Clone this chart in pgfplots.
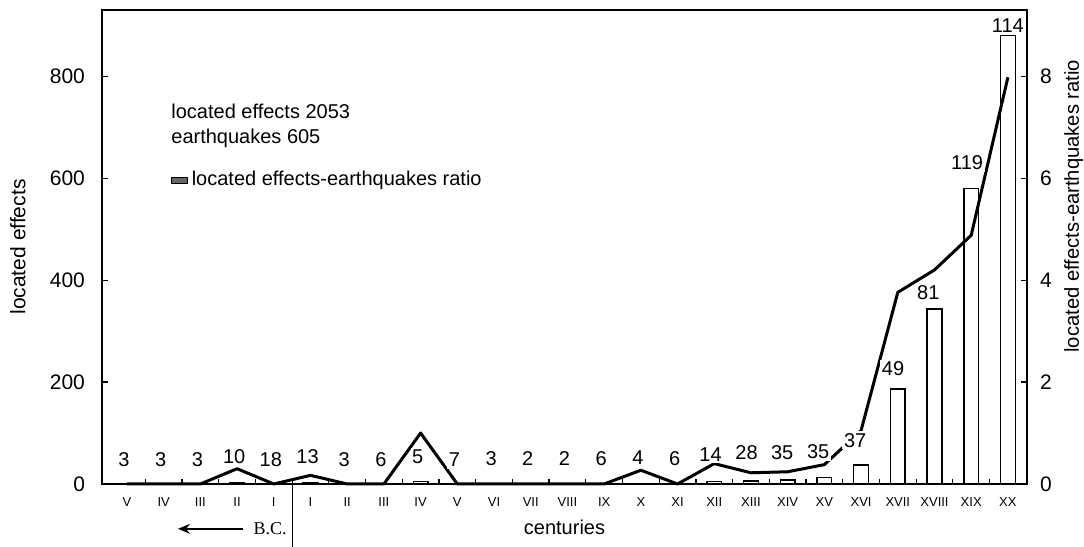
\documentclass[border=0pt]{standalone}
\usepackage{pgfplots}
\pgfplotsset{compat=1.18}
\usepackage{pgfplotstable}
\usepackage{fontspec}
\setmainfont{Liberation Sans}
\newfontfamily\serifBC{Liberation Serif}
\usetikzlibrary{arrows.meta}

% x: category index (0-4 = V..I B.C., 5-24 = I..XX A.D.)
\pgfplotstableread{
x eff ratio
0 0 0
1 0 0
2 0 0
3 3 0.30
4 0 0
5 2 0.17
6 0 0
7 0 0
8 5 1.00
9 0 0
10 0 0
11 0 0
12 0 0
13 0 0
14 1 0.27
15 0 0
16 5 0.40
17 6 0.22
18 8 0.24
19 13 0.38
20 37 1.05
21 186 3.76
22 343 4.20
23 580 4.88
24 880 7.98
}\data

% earthquake counts, placed in ratio units
\pgfplotstableread{
x y lab
-0.08 0.47 3
0.92 0.47 3
1.92 0.47 3
2.92 0.53 10
3.92 0.47 18
4.92 0.53 13
5.92 0.47 3
6.92 0.47 6
7.92 0.53 5
8.92 0.47 7
9.92 0.50 3
10.92 0.50 2
11.92 0.50 2
12.92 0.50 6
13.92 0.52 4
14.92 0.50 6
15.9 0.57 14
16.88 0.61 28
17.85 0.61 35
18.83 0.63 35
19.84 0.86 37
20.87 2.27 49
21.83 3.76 81
22.89 6.30 119
24.0 9.00 114
}\labels

\begin{document}
\begin{tikzpicture}
\begin{axis}[
  scale only axis, width=462.5pt, height=237pt,
  xmin=-0.68, xmax=24.52, ymin=0, ymax=930,
  axis line style={line width=0.75pt},
  ytick={0,200,400,600,800}, ytick pos=left,
  xtick={0,...,24},
  xticklabels={V,IV,III,II,I,I,II,III,IV,V,VI,VII,VIII,IX,X,XI,XII,XIII,XIV,XV,XVI,XVII,XVIII,XIX,XX},
  xtick pos=left,
  major x tick style={draw=none},
  minor xtick={0.5,1.5,...,23.5},
  minor tick length=2.5pt, major tick length=3pt,
  tick align=inside,
  tick style={black, line width=0.6pt},
  /pgf/number format/assume math mode=true,
  yticklabel style={font=\fontsize{10.5}{12}\selectfont, xshift=-5pt},
  xticklabel style={font=\fontsize{6.5}{8}\selectfont, anchor=center, yshift=-9pt},
  ylabel={located effects},
  ylabel style={font=\fontsize{10.5}{12}\selectfont, at={(axis description cs:-0.091,0.5)}, anchor=center},
  xlabel={centuries},
  xlabel style={font=\fontsize{10}{12}\selectfont, at={(axis description cs:0.5,-0.092)}, anchor=center},
  clip=false,
]
\addplot[ybar, bar width=0.4, fill=white, draw=black, line width=0.75pt] table[x=x,y=eff]{\data};
\draw[line width=0.6pt] (axis cs:4.5,0) -- (axis cs:4.5,-125);
\draw[line width=0.8pt, -{Stealth[length=6pt,width=5pt]}] (axis cs:3.16,-88) -- (axis cs:1.39,-88);
\node[font=\serifBC\fontsize{9}{10}\selectfont, anchor=center] at (axis cs:3.9,-88) {B.C.};
\node[anchor=west, align=left, inner sep=0pt, font=\fontsize{10}{12.5}\selectfont] at (axis description cs:0.0746,0.756) {located effects 2053\\earthquakes 605};
\end{axis}
\begin{axis}[
  scale only axis, width=462.5pt, height=237pt,
  xmin=-0.68, xmax=24.52, ymin=0, ymax=9.3,
  axis x line=none, axis y line*=right,
  axis line style={line width=0.75pt},
  ytick={0,2,4,6,8},
  major tick length=3pt, tick align=inside,
  tick style={black, line width=0.6pt},
  /pgf/number format/assume math mode=true,
  yticklabel style={font=\fontsize{10.5}{12}\selectfont, xshift=3pt},
  ylabel={located effects-earthquakes ratio},
  ylabel style={font=\fontsize{10.1}{12}\selectfont, at={(axis description cs:1.0505,0.586)}, anchor=center},
  legend style={at={(axis description cs:0.0746,0.641)}, anchor=west, draw=none, fill=none, inner sep=0pt, outer sep=0pt, font=\fontsize{10}{12}\selectfont},
  legend cell align=left,
  legend image code/.code={\draw[fill=black!60, draw=black, line width=0.4pt] (0pt,-1.4pt) rectangle (8pt,1.4pt);},
  clip=false,
]
\addplot[line width=1.5pt, black, line join=round, mark=none] table[x=x,y=ratio]{\data};
\addlegendentry{located effects-earthquakes ratio}
\addplot[draw=none, mark=none, forget plot, nodes near coords, point meta=explicit symbolic,
  nodes near coords style={anchor=center, fill=white, inner sep=0.8pt, font=\fontsize{10}{11}\selectfont}]
  table[x=x,y=y,meta=lab]{\labels};
\end{axis}
\pgfresetboundingbox
\path[use as bounding box] (-51pt,-31.5pt) rectangle (491pt,242pt);
\end{tikzpicture}
\end{document}
